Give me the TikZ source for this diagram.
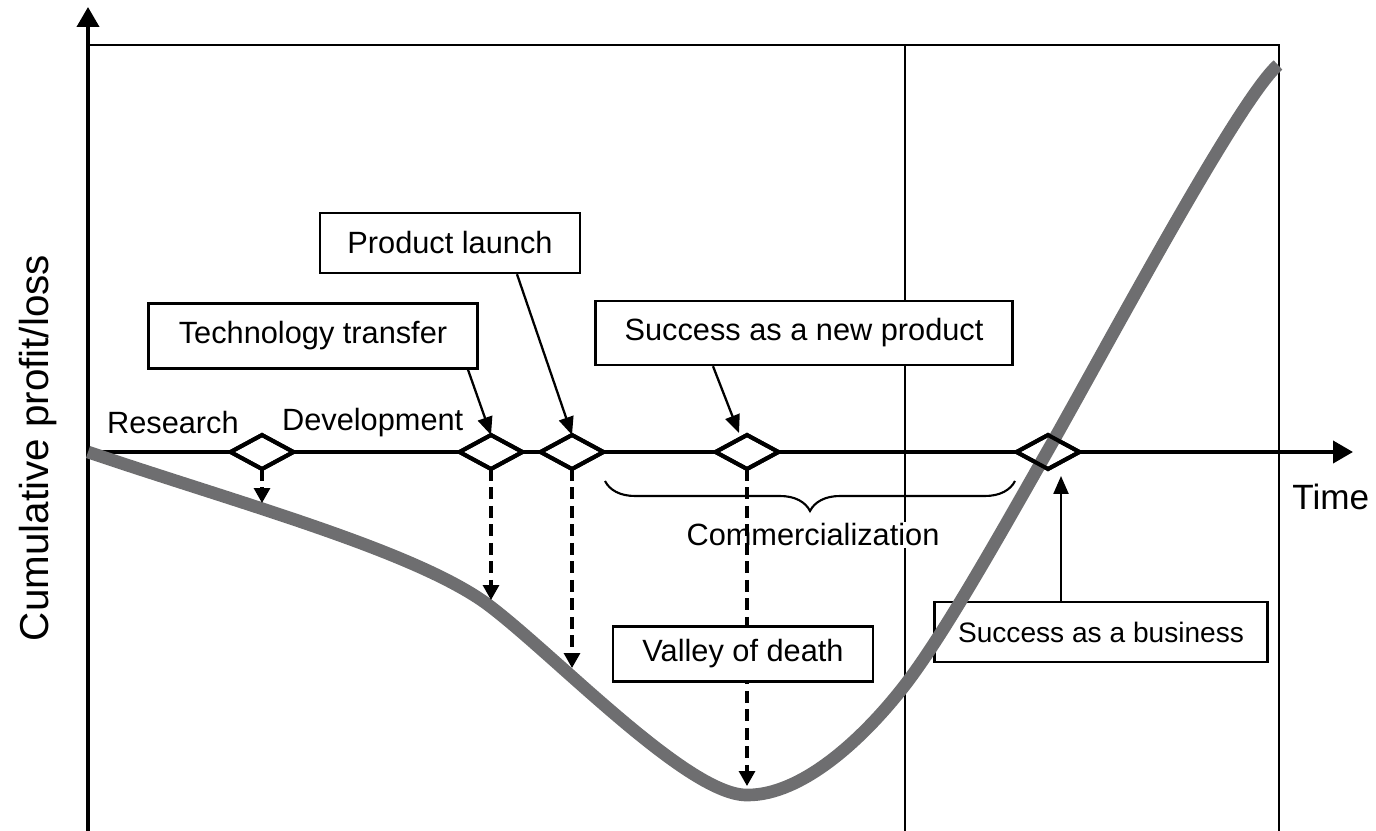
\documentclass[tikz,border=0pt]{standalone}
\usepackage{fontspec}
\setmainfont{Liberation Sans}
\usetikzlibrary{arrows.meta,positioning,calc,shapes.geometric,decorations.pathreplacing}
\definecolor{curvegray}{RGB}{110,110,112}
\newcommand{\lbl}{\fontsize{17.5}{21}\selectfont}
\tikzset{
  framebar/.style={line width=1.6pt},
  axisarr/.style={-{Triangle[length=0.4cm,width=0.44cm]}, line width=2.2pt},
  milestone/.style={diamond, draw, fill=white, line width=2.3pt, inner sep=0pt, outer sep=0pt,
                    minimum width=1.26cm, minimum height=0.68cm},
  tagbox/.style={draw, fill=white, line width=1.4pt, inner sep=0pt, font=\lbl},
  tagarr/.style={-{Triangle[length=0.36cm,width=0.3cm]}, line width=1.3pt},
  droparr/.style={-{Triangle[length=0.3cm,width=0.32cm]}, line width=1.8pt,
                  dash pattern=on 0.24cm off 0.13cm},
  phaselbl/.style={font=\lbl, inner sep=1pt},
  profit/.style={curvegray, line width=7.2pt},
}

\begin{document}
\begin{tikzpicture}[x=0.02cm, y=-0.02cm]
  \useasboundingbox (0,0) rectangle (1376,831);
  % axes and frame
  \coordinate (yb) at (88,831);
  \coordinate (yt) at (88,7);
  \coordinate (o) at (88,452);
  \coordinate (te) at (1353,452);
  \draw[framebar] (88,45) -- (1279,45) -- (1279,831);
  \draw[framebar] (905,45) -- (905,831);
  \draw[axisarr] (yb) -- (yt);
  \draw[axisarr] (o) -- (te);
  \node[rotate=90, font=\fontsize{23}{26}\selectfont] (ylab) at (38,448) {Cumulative profit/loss};
  \node[font=\fontsize{20}{24}\selectfont, anchor=west, inner sep=0pt] (time) at (1292,497) {Time};
  \node[phaselbl, anchor=west] (res) at (105,423) {Research};
  \node[phaselbl, anchor=west] (dev) at (280,423) {Development};

  % commercialization
  \node[phaselbl, fill=white] (com) at (813,535) {Commercialization};
  \coordinate (cl) at (605,481);
  \coordinate (cr) at (1015,481);
  \draw[decorate, decoration={brace, mirror, amplitude=0.6cm}, line width=1.2pt] (cl) -- (cr);

  % milestones
  \node[milestone] (dr) at (262,452) {};
  \node[milestone] (dt) at (491,452) {};
  \node[milestone] (dp) at (572,452) {};
  \node[milestone] (dn) at (747,452) {};
  \node[milestone] (db) at (1048,452) {};

  \node[tagbox, font=\fontsize{16}{19}\selectfont, minimum width=6.66cm, minimum height=1.2cm]
    (sb) at (1101,632) {Success as a business};
  \coordinate (bt) at (1061,476);
  \draw[tagarr] (sb.north -| bt) -- (bt);

  % cumulative profit curve
  \draw[profit] (88,452) .. controls (238,503) and (420,552) .. (491,607)
    .. controls (560,660) and (690,797) .. (748,795)
    .. controls (800,795) and (860,743) .. (905,685)
    .. controls (945,633) and (1002,531) .. (1047,452)
    .. controls (1105,350) and (1238,100) .. (1278,65);

  \coordinate (rtip) at (262,503);
  \coordinate (ttip) at (491,600);
  \coordinate (ptip) at (572,668);
  \coordinate (vtip) at (747,786);
  \draw[droparr] (dr.south) -- (rtip);
  \draw[droparr] (dt.south) -- (ttip);
  \draw[droparr] (dp.south) -- (ptip);
  \draw[droparr] (dn.south) -- (vtip);

  % labels
  \node[tagbox, minimum width=6.58cm, minimum height=1.3cm] (tt) at (313,336) {Technology transfer};
  \node[tagbox, minimum width=5.2cm, minimum height=1.2cm] (pl) at (450,243) {Product launch};
  \node[tagbox, minimum width=8.34cm, minimum height=1.28cm] (sn) at (804,333) {Success as a new product};
  \node[tagbox, minimum width=5.2cm, minimum height=1.1cm] (vd) at (743,654) {Valley of death};

  \draw[tagarr] ($(tt.south)+(155,0)$) -- (dt.north);
  \draw[tagarr] ($(pl.south)+(67,0)$) -- (dp.north);
  \draw[tagarr] ($(sn.south)+(-91,0)$) -- ($(dn.north)+(-8,-2)$);

  \foreach \d in {dr,dt,dp,dn,db}
    \draw[line width=2.3pt] (\d.north) -- (\d.east) -- (\d.south) -- (\d.west) -- cycle;
\end{tikzpicture}
\end{document}
